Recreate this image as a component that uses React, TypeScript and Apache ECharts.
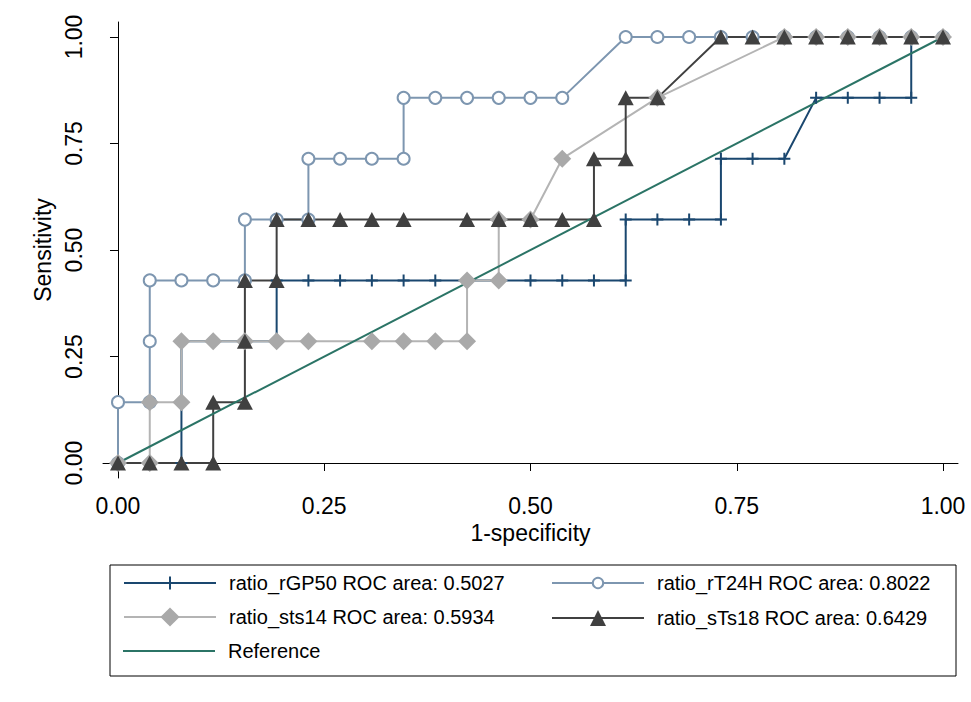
import React, { useEffect, useRef } from "react";
import * as echarts from "echarts";

// 1-specificity and sensitivity values for each ROC curve
const rGP50X = [0, 0.0385, 0.0769, 0.0769, 0.0769, 0.1154, 0.1538, 0.1923, 0.1923, 0.2308, 0.2692, 0.3077, 0.3462, 0.3846, 0.4231, 0.4615, 0.5, 0.5385, 0.5769, 0.6154, 0.6154, 0.6538, 0.6923, 0.7308, 0.7308, 0.7692, 0.8077, 0.8462, 0.8846, 0.9231, 0.9615, 0.9615, 1];
const rGP50Y = [0, 0, 0, 0.1429, 0.2857, 0.2857, 0.2857, 0.2857, 0.4286, 0.4286, 0.4286, 0.4286, 0.4286, 0.4286, 0.4286, 0.4286, 0.4286, 0.4286, 0.4286, 0.4286, 0.5714, 0.5714, 0.5714, 0.5714, 0.7143, 0.7143, 0.7143, 0.8571, 0.8571, 0.8571, 0.8571, 1, 1];

const rT24HX = [0, 0, 0.0385, 0.0385, 0.0385, 0.0769, 0.1154, 0.1538, 0.1538, 0.1923, 0.2308, 0.2308, 0.2692, 0.3077, 0.3462, 0.3462, 0.3846, 0.4231, 0.4615, 0.5, 0.5385, 0.6154, 0.6538, 0.6923, 0.7308, 0.7692, 0.8077, 0.8462, 0.8846, 0.9231, 0.9615, 1];
const rT24HY = [0, 0.1429, 0.1429, 0.2857, 0.4286, 0.4286, 0.4286, 0.4286, 0.5714, 0.5714, 0.5714, 0.7143, 0.7143, 0.7143, 0.7143, 0.8571, 0.8571, 0.8571, 0.8571, 0.8571, 0.8571, 1, 1, 1, 1, 1, 1, 1, 1, 1, 1, 1];

const sts14X = [0, 0.0385, 0.0385, 0.0769, 0.0769, 0.1154, 0.1538, 0.1923, 0.2308, 0.3077, 0.3462, 0.3846, 0.4231, 0.4231, 0.4615, 0.4615, 0.5, 0.5385, 0.6538, 0.8077, 0.8462, 0.8846, 0.9231, 0.9615, 1];
const sts14Y = [0, 0, 0.1429, 0.1429, 0.2857, 0.2857, 0.2857, 0.2857, 0.2857, 0.2857, 0.2857, 0.2857, 0.2857, 0.4286, 0.4286, 0.5714, 0.5714, 0.7143, 0.8571, 1, 1, 1, 1, 1, 1];

const sTs18X = [0, 0.0385, 0.0769, 0.1154, 0.1154, 0.1538, 0.1538, 0.1538, 0.1923, 0.1923, 0.2308, 0.2692, 0.3077, 0.3462, 0.4231, 0.4615, 0.5, 0.5385, 0.5769, 0.5769, 0.6154, 0.6154, 0.6538, 0.7308, 0.7692, 0.8077, 0.8462, 0.8846, 0.9231, 0.9615, 1];
const sTs18Y = [0, 0, 0, 0, 0.1429, 0.1429, 0.2857, 0.4286, 0.4286, 0.5714, 0.5714, 0.5714, 0.5714, 0.5714, 0.5714, 0.5714, 0.5714, 0.5714, 0.5714, 0.7143, 0.7143, 0.8571, 0.8571, 1, 1, 1, 1, 1, 1, 1, 1];

const referenceX = [0, 1];
const referenceY = [0, 1];

const seriesNames = [
  "ratio_rGP50 ROC area: 0.5027",
  "ratio_rT24H ROC area: 0.8022",
  "ratio_sts14 ROC area: 0.5934",
  "ratio_sTs18 ROC area: 0.6429",
  "Reference",
];

const tickValues = [0, 0.25, 0.5, 0.75, 1];

const NAVY = "#1a476f";
const LIGHTBLUE = "#7d96b0";
const GRAYLINE = "#b4b4b4";
const GRAYMARK = "#a9a9a9";
const DARK = "#404040";
const TEAL = "#2b7466";
const FONT = "'Liberation Sans', Arial, Helvetica, sans-serif";

const zip = (xs: number[], ys: number[]) => xs.map((x, i) => [x, ys[i]]);

const PLUS = "path://M6,0 L6,12 M0,6 L12,6";

export default function App() {
  const ref = useRef<HTMLDivElement>(null);
  useEffect(() => {
    if (!ref.current) return;
    const chart = echarts.init(ref.current, null, { renderer: "svg" });
    const legendText = {
      fontSize: 20,
      color: "#000",
      fontFamily: FONT,
      padding: [0, 0, 0, 8],
      lineHeight: 22,
    };
    const mkLegend = (name: string, left: number, rowY: number, ih: number, extra: any = {}) => ({
      data: [{ name, ...extra }],
      left,
      top: rowY - Math.max(ih, 22) / 2,
      itemWidth: 92,
      itemHeight: ih,
      padding: 0,
      selectedMode: false,
      textStyle: legendText,
    });
    const axisCommon = {
      type: "value",
      axisLine: { show: true, lineStyle: { color: "#000", width: 1 } },
      splitLine: { show: false },
      nameTextStyle: { fontSize: 23, color: "#000", fontFamily: FONT },
    };
    chart.setOption({
      animation: false,
      backgroundColor: "#fff",
      grid: { left: 103, right: 13, top: 22, bottom: 224, containLabel: false },
      xAxis: {
        ...axisCommon,
        min: -0.01818,
        max: 1.01818,
        name: "1-specificity",
        nameLocation: "middle",
        nameGap: 38,
        axisTick: { show: true, length: 8, customValues: tickValues, lineStyle: { color: "#000" } },
        axisLabel: {
          customValues: tickValues,
          formatter: (v: number) => v.toFixed(2),
          fontSize: 23,
          color: "#000",
          fontFamily: FONT,
          margin: 16,
        },
      },
      yAxis: {
        ...axisCommon,
        min: -0.0352,
        max: 1.0352,
        name: "Sensitivity",
        nameLocation: "middle",
        nameGap: 43,
        nameRotate: 90,
        axisTick: { show: true, length: 8, customValues: tickValues, lineStyle: { color: "#000" } },
        axisLabel: {
          customValues: tickValues,
          formatter: (v: number) => v.toFixed(2),
          fontSize: 23,
          color: "#000",
          fontFamily: FONT,
          rotate: 90,
          margin: 18,
        },
      },
      legend: [
        mkLegend(seriesNames[0], 123, 583, 16, { itemStyle: { color: NAVY, borderColor: NAVY, borderWidth: 2 } }),
        mkLegend(seriesNames[1], 551, 583, 13),
        mkLegend(seriesNames[2], 123, 618, 24),
        mkLegend(seriesNames[3], 551, 618, 20),
        mkLegend(seriesNames[4], 123, 651, 2, { icon: "rect" }),
      ],
      graphic: [
        {
          type: "rect",
          shape: { x: 110, y: 565, width: 846, height: 111 },
          style: { fill: "none", stroke: "#000", lineWidth: 1 },
          silent: true,
        },
      ],
      series: [
        {
          name: seriesNames[0],
          type: "line",
          data: zip(rGP50X, rGP50Y),
          symbol: PLUS,
          symbolSize: 12,
          lineStyle: { color: NAVY, width: 2 },
          itemStyle: { color: NAVY, borderColor: NAVY, borderWidth: 2 },
        },
        {
          name: seriesNames[1],
          type: "line",
          data: zip(rT24HX, rT24HY),
          symbol: "emptyCircle",
          symbolSize: 12,
          lineStyle: { color: LIGHTBLUE, width: 2 },
          itemStyle: { color: LIGHTBLUE, borderWidth: 2 },
        },
        {
          name: seriesNames[2],
          type: "line",
          data: zip(sts14X, sts14Y),
          symbol: "diamond",
          symbolSize: [18, 18],
          lineStyle: { color: GRAYLINE, width: 2 },
          itemStyle: { color: GRAYMARK },
        },
        {
          name: seriesNames[3],
          type: "line",
          data: zip(sTs18X, sTs18Y),
          symbol: "triangle",
          symbolSize: [16, 15],
          lineStyle: { color: DARK, width: 2 },
          itemStyle: { color: DARK },
        },
        {
          name: seriesNames[4],
          type: "line",
          data: zip(referenceX, referenceY),
          symbol: "none",
          lineStyle: { color: TEAL, width: 2 },
          itemStyle: { color: TEAL },
        },
      ],
    });
    return () => chart.dispose();
  }, []);
  return (
    <div
      ref={ref}
      style={{ position: "fixed", left: 0, top: 0, width: 971, height: 702, background: "#fff" }}
    />
  );
}
